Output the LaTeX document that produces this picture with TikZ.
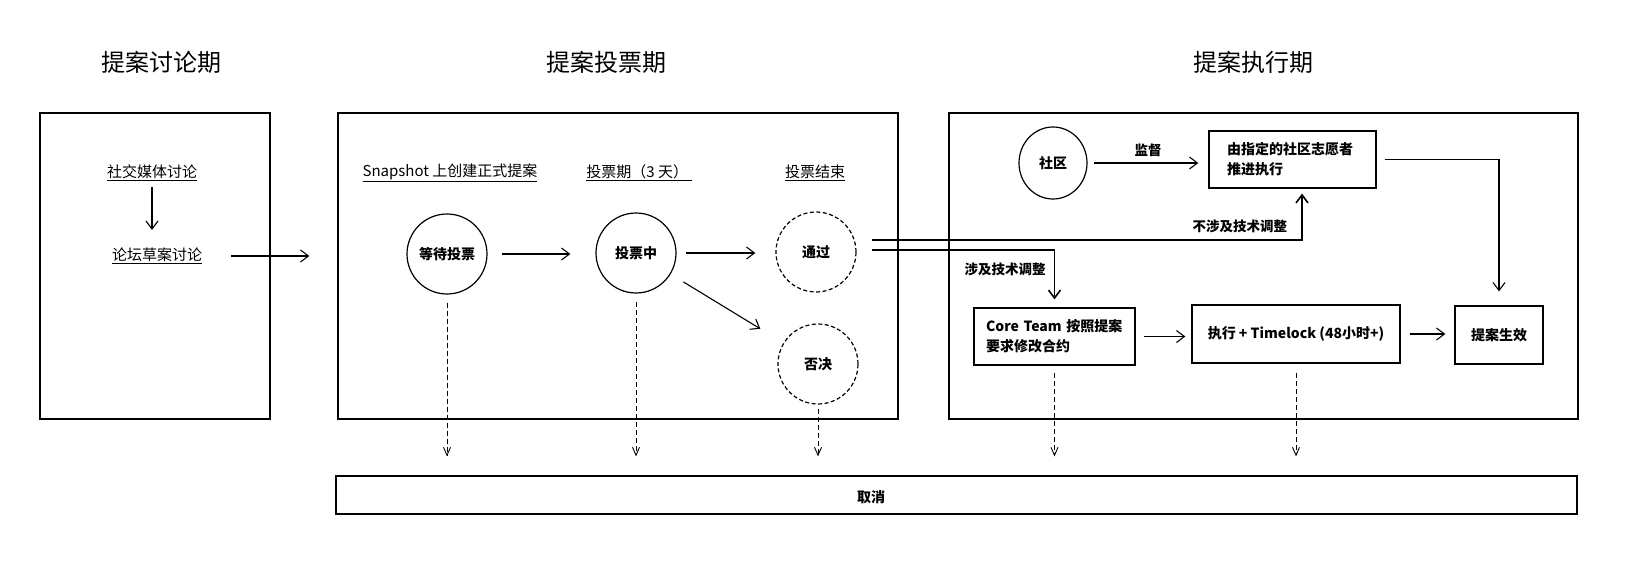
\documentclass[tikz,border=0pt]{standalone}
\usepackage{fontspec}
\setmainfont{Noto Sans CJK SC}
\usetikzlibrary{arrows.meta, positioning, shapes.geometric}

\begin{document}
\begin{tikzpicture}[
  x=1pt, y=-1pt,
  phase/.style={font=\fontsize{24}{28}\selectfont},
  tag/.style={inner sep=0pt, font=\fontsize{15}{18}\selectfont},
  note/.style={inner sep=0pt, font=\fontsize{13.5}{16}\selectfont\bfseries},
  panel/.style={draw, line width=1.2pt, inner sep=0pt},
  stage/.style={circle, draw, line width=1.2pt, minimum size=80pt, inner sep=0pt,
    font=\fontsize{14}{16}\selectfont\bfseries},
  stepbox/.style={draw, line width=1.2pt, inner ysep=4pt, align=left,
    minimum height=57pt, font=\fontsize{14}{20}\selectfont\bfseries},
  edge/.style={-{Straight Barb[length=8pt, width=12pt]}, line width=1.1pt},
  route/.style={-{Straight Barb[length=8pt, width=12pt]}, line width=1.6pt},
  abort/.style={-{Straight Barb[length=8pt, width=7pt]}, line width=0.9pt,
    dash pattern=on 5pt off 3pt, shorten >=19pt},
  open/.style={dash pattern=on 4pt off 2.5pt}
]
\useasboundingbox (0,0) rectangle (1626,567);

% phase titles
\node[phase] (t1) at (161,62) {提案讨论期};
\node[phase] (t2) at (606,62) {提案投票期};
\node[phase] (t3) at (1253,62) {提案执行期};

% panels
\node[panel, minimum width=230pt, minimum height=306pt] (discuss) at (155,266) {};
\node[panel, minimum width=560pt, minimum height=306pt] (vote) at (618,266) {};
\node[panel, minimum width=629pt, minimum height=306pt] (exec) at (1263.5,266) {};
\node[panel, minimum width=1241pt, minimum height=38pt] (cancel) at (956.5,495) {};
\node[note, font=\fontsize{14}{16}\selectfont\bfseries] (cancellabel) at (871,497) {取消};

% discussion
\node[tag] (social) at (152,173) {\underline{社交媒体讨论}};
\node[tag] (forum) at (157,256) {\underline{论坛草案讨论}};
\draw[edge, shorten <=6pt, shorten >=18pt] (social.south) -- (social.south |- forum.north);
\draw[edge, shorten <=29pt, shorten >=28pt] (forum.east) -- (forum.east -| vote.west);

% voting
\node[tag] (create) at (450,173) {\underline{Snapshot 上创建正式提案}};
\node[tag] (period) at (639,173) {\underline{投票期（3 天）\ }};
\node[tag] (close) at (815,173) {\underline{投票结束}};

\node[stage] (wait) at (447,254) {等待投票};
\node[stage] (voting) at (636,253) {投票中};
\node[stage, open] (pass) at (816,252) {通过};
\node[stage, open] (reject) at (818,364) {否决};

\draw[edge, shorten <=14pt, shorten >=25pt] (wait.east) -- (wait.east -| voting.west);
\draw[edge, shorten <=9pt, shorten >=20pt] (voting.east) -- (voting.east -| pass.west);
\draw[edge, shorten <=15pt, shorten >=27pt] (voting) -- (reject);

% execution
\node[ellipse, draw, line width=1.2pt, minimum width=68pt, minimum height=72pt,
  font=\fontsize{14}{16}\selectfont\bfseries] (community) at (1053,163) {社区};
\node[stepbox, text width=131pt, inner xsep=18pt] (volunteer) at (1292.5,159.5)
  {由指定的社区志愿者\\推进执行};
\node[stepbox, text width=137pt, inner xsep=12pt] (core) at (1054.5,336.5)
  {Core Team 按照提案\\要求修改合约};
\node[stepbox, minimum width=208pt, minimum height=58pt, align=center] (run) at (1296,334)
  {执行 + Timelock (48小时+)};
\node[stepbox, minimum width=88pt, minimum height=58pt, align=center] (effect) at (1499,335)
  {提案生效};

\draw[edge, shorten <=6pt, shorten >=10pt] (community.east) -- (community.east -| volunteer.west)
  node[midway, above=6pt, note] {监督};
\draw[edge, shorten >=14pt] ([xshift=8pt]volunteer.east) -| (effect.north);
\draw[edge, shorten <=8pt, shorten >=6pt] (core.east) -- (core.east -| run.west);
\draw[edge, shorten <=9pt, shorten >=9pt] (run.east) -- (run.east -| effect.west);

\draw[route, shorten >=5pt] ([xshift=15pt, yshift=12pt]pass.east) -| ([xshift=9.5pt]volunteer.south)
  node[pos=0.5, anchor=south east, xshift=-14pt, yshift=6pt, note] {不涉及技术调整};
\draw[route, shorten >=8pt] ([xshift=15pt, yshift=2pt]pass.east) -| (core.north)
  node[pos=0.5, anchor=north east, xshift=-8pt, yshift=-12pt, note] {涉及技术调整};

% cancellation
\draw[abort, shorten <=8pt] (wait.south) -- (wait.south |- cancel.north);
\draw[abort, shorten <=8pt] (voting.south) -- (voting.south |- cancel.north);
\draw[abort, shorten <=4pt] (reject.south) -- (reject.south |- cancel.north);
\draw[abort, shorten <=7pt] (core.south) -- (core.south |- cancel.north);
\draw[abort, shorten <=9pt] (run.south) -- (run.south |- cancel.north);
\end{tikzpicture}
\end{document}
